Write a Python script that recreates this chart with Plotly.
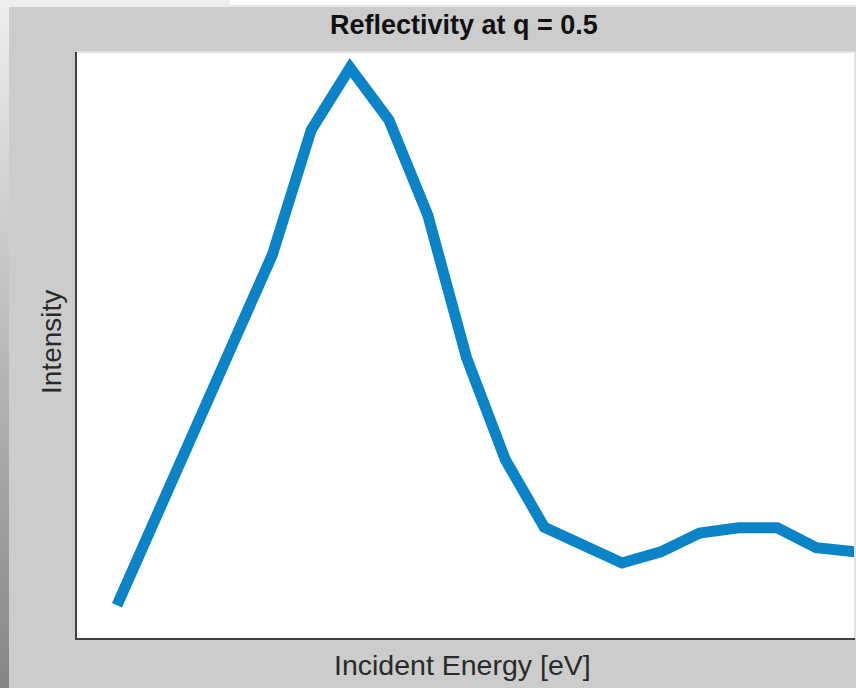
import plotly.graph_objects as go

# Incident energy steps (arbitrary, evenly spaced) and reflected intensity (a.u.)
energy = [1, 2, 3, 4, 5, 6, 7, 8, 9, 10, 11, 12, 13, 14, 15, 16, 17, 18, 19, 20]
intensity = [0.056, 0.205, 0.355, 0.509, 0.654, 0.867, 0.973, 0.884, 0.722, 0.478,
             0.304, 0.189, 0.159, 0.128, 0.147, 0.179, 0.188, 0.188, 0.154, 0.147]

title_text = "Reflectivity at q = 0.5"
xlabel_text = "Incident Energy [eV]"
ylabel_text = "Intensity"

W, H = 856, 688
L, R, T, B = 77, 1, 52, 50
PW, PH = W - L - R, H - T - B


def px(x):
    return (x - L) / PW


def py(y):
    return (H - B - y) / PH


fig = go.Figure()
fig.add_trace(go.Scatter(
    x=energy, y=intensity, mode="lines",
    line=dict(color="#0a84c6", width=11),
    hoverinfo="skip", showlegend=False,
))

shapes = []
# window chrome: light strip on top, shaded strip on the left
shapes.append(dict(type="rect", xref="paper", yref="paper", layer="below",
                   x0=px(0), x1=px(230), y0=py(7), y1=py(0),
                   fillcolor="#eeeeee", line=dict(width=0)))
shapes.append(dict(type="rect", xref="paper", yref="paper", layer="below",
                   x0=px(230), x1=px(W), y0=py(5), y1=py(0),
                   fillcolor="#ffffff", line=dict(width=0)))
shapes.append(dict(type="rect", xref="paper", yref="paper", layer="below",
                   x0=px(230), x1=px(W), y0=py(7), y1=py(5),
                   fillcolor="#e8e8e8", line=dict(width=0)))
n_bands = 86
for i in range(n_bands):
    t = i / (n_bands - 1)
    g = int(round(238 + (134 - 238) * t))
    y0 = H * i / n_bands
    y1 = H * (i + 1) / n_bands
    shapes.append(dict(type="rect", xref="paper", yref="paper", layer="below",
                       x0=px(0), x1=px(9), y0=py(y1 + 0.5), y1=py(y0),
                       fillcolor=f"rgb({g},{g},{g})", line=dict(width=0)))
# light frame on top and right of the axes box
shapes.append(dict(type="line", xref="paper", yref="paper",
                   x0=0, x1=1, y0=1, y1=1, line=dict(color="#e2e2e2", width=2)))
shapes.append(dict(type="line", xref="paper", yref="paper",
                   x0=1, x1=1, y0=0, y1=1, line=dict(color="#e2e2e2", width=2)))

annotations = [
    dict(text=f"<b>{title_text}</b>", xref="paper", yref="paper",
         x=px(464), y=py(25), xanchor="center", yanchor="middle",
         showarrow=False, font=dict(family="Liberation Sans, Arial", size=27, color="#111111")),
    dict(text=xlabel_text, xref="paper", yref="paper",
         x=px(462), y=py(665), xanchor="center", yanchor="middle",
         showarrow=False, font=dict(family="Liberation Sans, Arial", size=28.5, color="#2a2a2a")),
    dict(text=ylabel_text, xref="paper", yref="paper",
         x=px(51), y=py(342), xanchor="center", yanchor="middle", textangle=-90,
         showarrow=False, font=dict(family="Liberation Sans, Arial", size=28, color="#2a2a2a")),
]

fig.update_layout(
    width=W, height=H,
    margin=dict(l=L, r=R, t=T, b=B, pad=0),
    paper_bgcolor="#cccccc", plot_bgcolor="#ffffff",
    shapes=shapes, annotations=annotations,
    xaxis=dict(range=[-0.03, 20], showgrid=False, zeroline=False, showticklabels=False,
               ticks="", showline=True, linecolor="#404040", linewidth=2, mirror=False),
    yaxis=dict(range=[0, 1], showgrid=False, zeroline=False, showticklabels=False,
               ticks="", showline=True, linecolor="#404040", linewidth=2, mirror=False),
)

fig.write_html("out.html")
